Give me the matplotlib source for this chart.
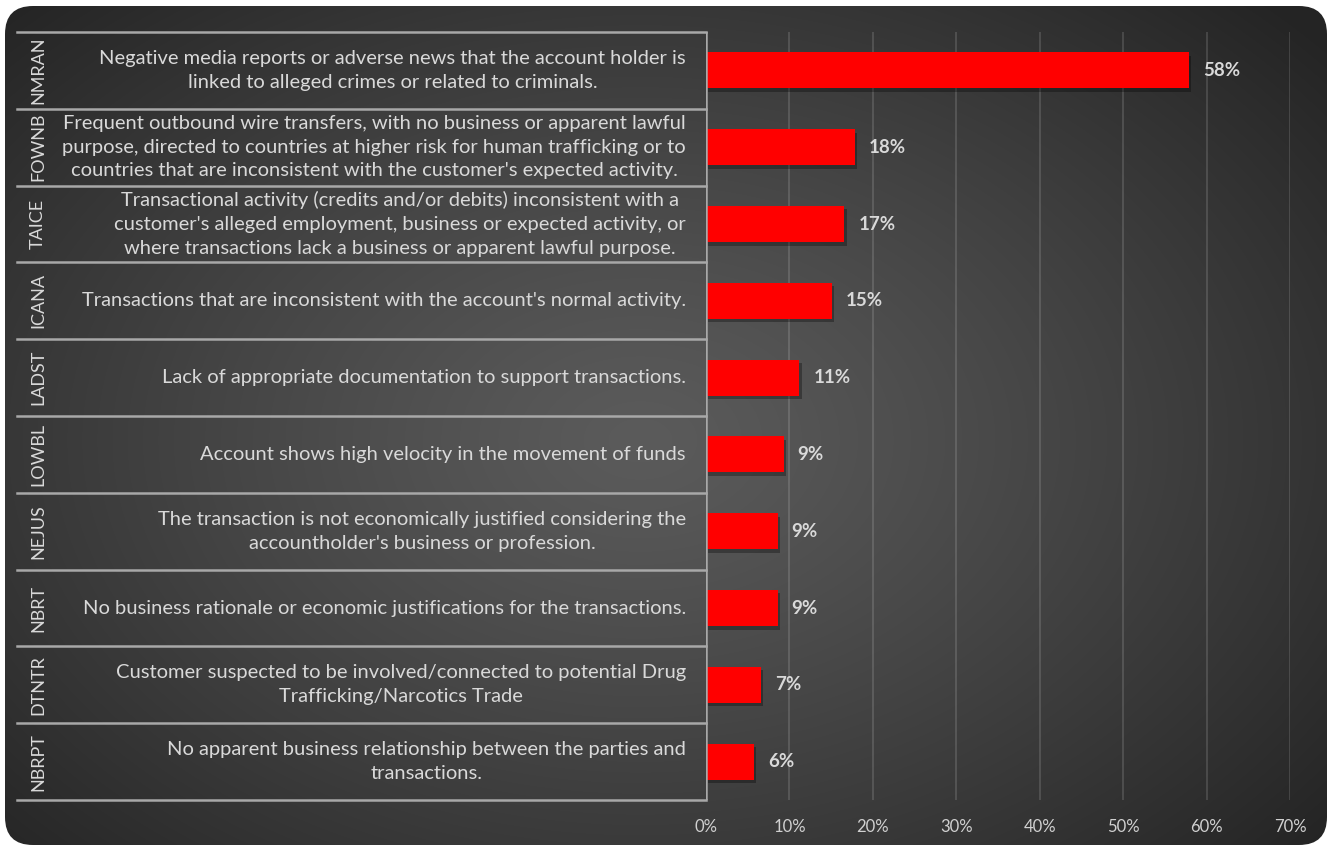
import numpy as np
import matplotlib
matplotlib.use("Agg")
import matplotlib.pyplot as plt
import matplotlib.transforms as mtransforms
import matplotlib.patheffects as pe
from matplotlib.patches import FancyBboxPatch

plt.rcParams["font.family"] = ["Lato", "DejaVu Sans"]

codes = ["NMRAN", "FOWNB", "TAICE", "ICANA", "LADST",
         "LOWBL", "NEJUS", "NBRT", "DTNTR", "NBRPT"]
descriptions = [
    "Negative media reports or adverse news that the account holder is\nlinked to alleged crimes or related to criminals.",
    "Frequent outbound wire transfers, with no business or apparent lawful\npurpose, directed to countries at higher risk for human trafficking or to\ncountries that are inconsistent with the customer's expected activity.",
    "Transactional activity (credits and/or debits) inconsistent with a\ncustomer's alleged employment, business or expected activity, or\nwhere transactions lack a business or apparent lawful purpose.",
    "Transactions that are inconsistent with the account's normal activity.",
    "Lack of appropriate documentation to support transactions.",
    "Account shows high velocity in the movement of funds",
    "The transaction is not economically justified considering the\naccountholder's business or profession.",
    "No business rationale or economic justifications for the transactions.",
    "Customer suspected to be involved/connected to potential Drug\nTrafficking/Narcotics Trade",
    "No apparent business relationship between the parties and\ntransactions.",
]
values = [57.9, 17.8, 16.6, 15.1, 11.2, 9.3, 8.6, 8.6, 6.6, 5.8]
xticks = [0, 10, 20, 30, 40, 50, 60, 70]

W, H = 1332, 851
fig = plt.figure(figsize=(W / 100, H / 100), dpi=100)
fig.patch.set_facecolor("white")

# dark rounded panel with radial gradient
bg = fig.add_axes([0, 0, 1, 1])
bg.set_xlim(0, W)
bg.set_ylim(H, 0)
bg.axis("off")
yy, xx = np.mgrid[0:H, 0:W]
r = np.sqrt(((xx - 640) / 900.0) ** 2 + ((yy - 440) / 620.0) ** 2)
r = np.clip(r, 0, 1)
c0, c1 = 0x5b / 255, 0x24 / 255
shade = c0 + (c1 - c0) * r ** 1.2
img = bg.imshow(np.dstack([shade, shade, shade]), extent=(0, W, H, 0), zorder=0)
panel = FancyBboxPatch((5, 6), W - 10, H - 12,
                       boxstyle="round,pad=0,rounding_size=28",
                       facecolor="none", edgecolor="none", transform=bg.transData)
bg.add_patch(panel)
img.set_clip_path(panel)

# bar axes
x0, x1 = 706, 1290
y_top, y_bot = 32, 800
ax = fig.add_axes([x0 / W, 1 - y_bot / H, (x1 - x0) / W, (y_bot - y_top) / H])
ax.set_facecolor("none")
ypos = np.arange(len(values))
ax.set_xlim(0, 70)
ax.set_ylim(len(values) - 0.5, -0.5)
for s in ax.spines.values():
    s.set_visible(False)

for t in xticks[1:]:
    ax.axvline(t, color="#ffffff", alpha=0.16, lw=1.2, zorder=1)

bars = ax.barh(ypos, values, height=0.47, color="#ff0000", zorder=3)
for b in bars:
    b.set_path_effects([pe.SimplePatchShadow(offset=(1.5, -2.5), shadow_rgbFace="black", alpha=0.3),
                        pe.Normal()])

for y, v in zip(ypos, values):
    ax.annotate(f"{round(v)}%", (v, y), xytext=(14, 0), textcoords="offset pixels",
                ha="left", va="center", color="#d9d9d9", fontsize=13.5, fontweight="bold")

ax.set_xticks(xticks)
ax.set_xticklabels([f"{t}%" for t in xticks])
ax.tick_params(axis="x", length=0, pad=14, labelsize=12, labelcolor="#d0d0d0")
ax.set_yticks([])

# left table
line_col = "#a8a8a8"
tr = mtransforms.blended_transform_factory(fig.transFigure, ax.transData)
for k in range(len(values) + 1):
    ax.plot([17 / W, x0 / W], [k - 0.5, k - 0.5], transform=tr, color=line_col,
            lw=1.8, clip_on=False, zorder=4)
ax.axvline(0, color=line_col, lw=1.8, zorder=4)

for y, code, desc in zip(ypos, codes, descriptions):
    ax.text(38 / W, y, code, transform=tr, rotation=90, ha="center", va="center",
            color="#d9d9d9", fontsize=13)
    ax.text(686 / W, y, desc, transform=tr, ha="right", va="center",
            color="#d9d9d9", fontsize=14.5, linespacing=1.48, multialignment="center")

fig.savefig("out.png", dpi=100, facecolor=fig.get_facecolor())
